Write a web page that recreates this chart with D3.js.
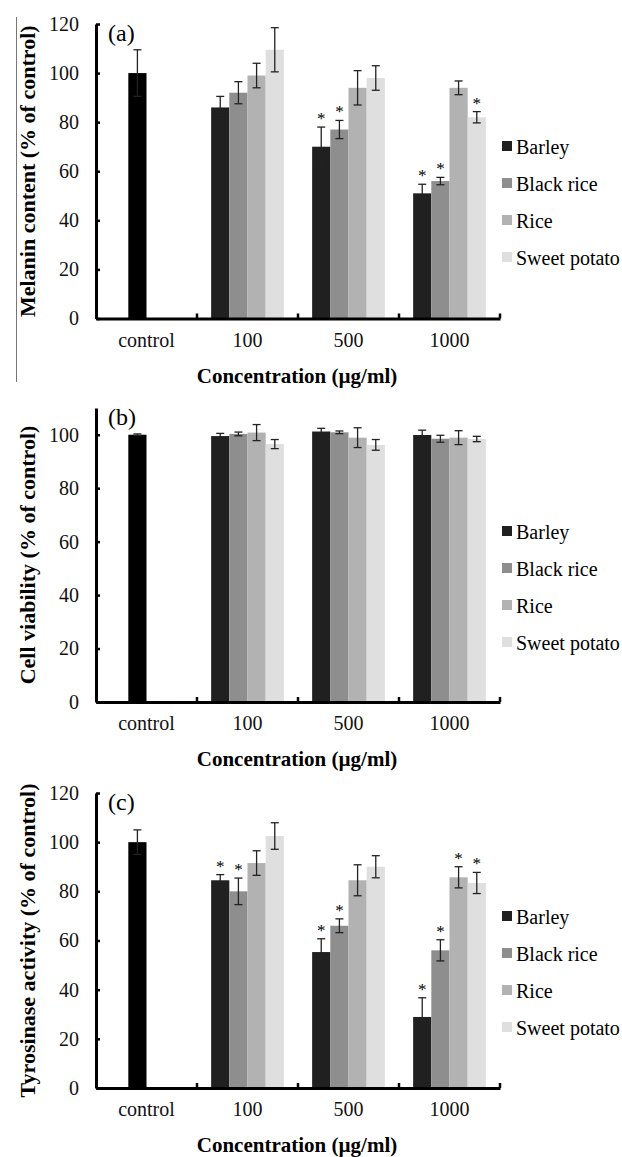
<!DOCTYPE html>
<html>
<head>
<meta charset="utf-8">
<script src="https://cdn.jsdelivr.net/npm/d3@7"></script>
<style>
  body { margin: 0; background: #fff; }
  svg { display: block; }
</style>
</head>
<body>
<svg id="chart" width="622" height="1157"></svg>
<script>
// categories and series
var categories = ["control", "100", "500", "1000"];
var doses = ["100", "500", "1000"];
var seriesNames = ["Barley", "Black rice", "Rice", "Sweet potato"];
var seriesColors = ["#202020", "#8e8e8e", "#b2b2b2", "#dfdfdf"];

// (a) melanin content, per series over doses 100 / 500 / 1000
var melaninControl = [100, 9.5];
var melaninMean = [[86, 70, 51], [92, 77, 56], [99, 94, 94], [109.5, 98, 82]];
var melaninErr = [[4.5, 8, 3.7], [4.5, 3.7, 1.5], [5, 7, 2.8], [9, 5, 2.3]];
var melaninStar = [[0, 1, 1], [0, 1, 1], [0, 0, 0], [0, 0, 1]];

// (b) cell viability
var viabilityControl = [100, 0.3];
var viabilityMean = [[99.5, 101.2, 99.9], [100.3, 100.9, 98.5], [100.8, 98.9, 98.9], [96.5, 96.2, 98.4]];
var viabilityErr = [[1, 1.2, 1.8], [0.7, 0.5, 1.3], [3, 3.7, 2.6], [1.7, 2, 1]];
var viabilityStar = [[0, 0, 0], [0, 0, 0], [0, 0, 0], [0, 0, 0]];

// (c) tyrosinase activity
var tyrosinaseControl = [100, 5];
var tyrosinaseMean = [[84.5, 55.3, 28.9], [80, 66, 56], [91.5, 84.5, 85.7], [102.5, 90, 83.4]];
var tyrosinaseErr = [[2.3, 5.4, 7.8], [5.4, 2.8, 4.3], [5, 6.3, 4.3], [5.4, 4.5, 4.3]];
var tyrosinaseStar = [[1, 1, 1], [1, 1, 1], [0, 0, 1], [0, 0, 1]];

var panels = [
  {label: "(a)", title: "Melanin content (% of control)", top: 24, bottom: 318.5, max: 120, ticks: [0, 20, 40, 60, 80, 100, 120],
   control: melaninControl, mean: melaninMean, err: melaninErr, star: melaninStar, legendTop: 147},
  {label: "(b)", title: "Cell viability (% of control)", top: 408, bottom: 702, max: 110, ticks: [0, 20, 40, 60, 80, 100],
   control: viabilityControl, mean: viabilityMean, err: viabilityErr, star: viabilityStar, legendTop: 532},
  {label: "(c)", title: "Tyrosinase activity (% of control)", top: 793, bottom: 1088, max: 120, ticks: [0, 20, 40, 60, 80, 100, 120],
   control: tyrosinaseControl, mean: tyrosinaseMean, err: tyrosinaseErr, star: tyrosinaseStar, legendTop: 917}
];

var FONT = "'Liberation Serif', 'Times New Roman', Times, serif";
var svg = d3.select("#chart");

var x = d3.scaleBand().domain(categories).range([96, 500]).paddingInner(0).paddingOuter(0);
var groupW = x.bandwidth() * 0.72;
var slot = d3.scaleBand().domain(d3.range(4)).range([(x.bandwidth() - groupW) / 2, (x.bandwidth() + groupW) / 2]);

// thin rule at the left edge of the top part
svg.append("line")
  .attr("x1", 16.5).attr("x2", 16.5).attr("y1", 17).attr("y2", 382)
  .attr("stroke", "#777").attr("stroke-width", 1);

panels.forEach(function(p) {
  var y = d3.scaleLinear().domain([0, p.max]).range([p.bottom, p.top]);
  var g = svg.append("g");

  // bars: control first, then the dose groups
  var bars = [{cat: "control", i: 1, v: p.control[0], e: p.control[1], s: 0, color: "#000"}];
  seriesNames.forEach(function(name, si) {
    doses.forEach(function(d, di) {
      bars.push({cat: d, i: si, v: p.mean[si][di], e: p.err[si][di], s: p.star[si][di], color: seriesColors[si]});
    });
  });

  g.selectAll("rect.bar").data(bars).enter().append("rect")
    .attr("class", "bar")
    .attr("x", function(d) { return x(d.cat) + slot(d.i); })
    .attr("width", slot.bandwidth())
    .attr("y", function(d) { return y(d.v); })
    .attr("height", function(d) { return y(0) - y(d.v); })
    .attr("fill", function(d) { return d.color; });

  // error bars
  var eb = g.selectAll("g.err").data(bars).enter().append("g")
    .attr("class", "err")
    .attr("transform", function(d) { return "translate(" + (x(d.cat) + slot(d.i) + slot.bandwidth() / 2) + ",0)"; })
    .attr("stroke", "#222").attr("stroke-width", 1.3);
  eb.append("line").attr("y1", function(d) { return y(d.v + d.e); }).attr("y2", function(d) { return y(d.v - d.e); });
  eb.append("line").attr("x1", -4).attr("x2", 4)
    .attr("y1", function(d) { return y(d.v + d.e); }).attr("y2", function(d) { return y(d.v + d.e); });
  eb.append("line").attr("x1", -4).attr("x2", 4)
    .attr("y1", function(d) { return y(d.v - d.e); }).attr("y2", function(d) { return y(d.v - d.e); });

  // significance stars
  g.selectAll("text.star").data(bars.filter(function(d) { return d.s; })).enter().append("text")
    .attr("class", "star")
    .attr("x", function(d) { return x(d.cat) + slot(d.i) + slot.bandwidth() / 2; })
    .attr("y", function(d) { return y(d.v + d.e) - 3; })
    .attr("text-anchor", "middle")
    .style("font-size", "17px")
    .text("*");

  // y axis
  var ya = g.append("g")
    .attr("transform", "translate(96,0)")
    .call(d3.axisLeft(y).tickValues(p.ticks).tickSizeInner(-4).tickSizeOuter(0).tickPadding(17));
  ya.select(".domain").attr("stroke", "#000").attr("stroke-width", 3);
  ya.selectAll(".tick line").attr("stroke", "#000").attr("stroke-width", 2.5);
  ya.selectAll(".tick text").style("font-size", "20px").attr("fill", "#111");

  // x axis
  var xa = g.append("g")
    .attr("transform", "translate(0," + p.bottom + ")")
    .call(d3.axisBottom(x).tickSize(0).tickPadding(14));
  xa.select(".domain").attr("stroke", "#000").attr("stroke-width", 3);
  xa.selectAll(".tick text").style("font-size", "20px").attr("fill", "#111");
  xa.selectAll("line.bound").data(categories).enter().append("line")
    .attr("class", "bound")
    .attr("x1", function(d) { return x(d) + x.bandwidth(); })
    .attr("x2", function(d) { return x(d) + x.bandwidth(); })
    .attr("y1", 0).attr("y2", -5)
    .attr("stroke", "#000").attr("stroke-width", 2.5);

  g.append("text")
    .attr("x", 297).attr("y", p.bottom + 64)
    .attr("text-anchor", "middle")
    .style("font-size", "21px").style("font-weight", "bold")
    .text("Concentration (\u00b5g/ml)");

  g.append("text")
    .attr("transform", "translate(35," + ((p.top + p.bottom) / 2) + ") rotate(-90)")
    .attr("text-anchor", "middle")
    .style("font-size", "22px").style("font-weight", "bold")
    .text(p.title);

  g.append("text")
    .attr("x", 108).attr("y", p.top + 17)
    .style("font-size", "24px")
    .text(p.label);

  // legend
  var lg = g.selectAll("g.leg").data(seriesNames).enter().append("g")
    .attr("class", "leg")
    .attr("transform", function(d, i) { return "translate(502," + (p.legendTop + i * 37) + ")"; });
  lg.append("rect").attr("x", 0).attr("y", -6).attr("width", 10).attr("height", 10)
    .attr("fill", function(d, i) { return seriesColors[i]; });
  lg.append("text").attr("x", 14).attr("y", 6.5)
    .style("font-size", "20px")
    .text(function(d) { return d; });
});

// one serif face for every label
svg.selectAll("text").style("font-family", FONT);
</script>
</body>
</html>
